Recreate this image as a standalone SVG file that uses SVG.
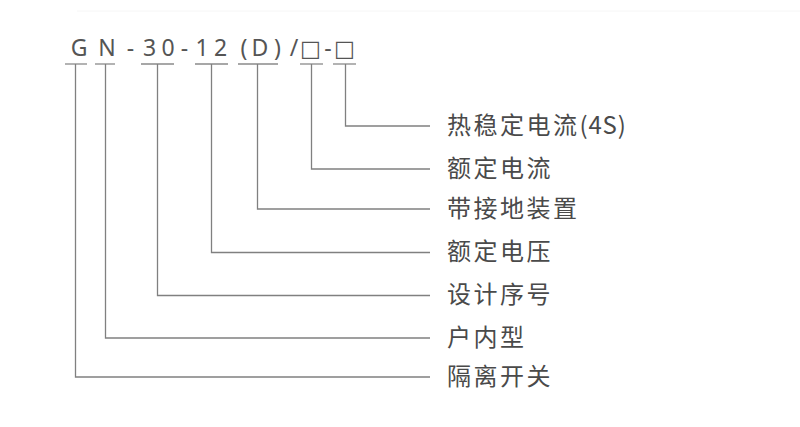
<svg xmlns="http://www.w3.org/2000/svg" width="800" height="427" viewBox="0 0 800 427">
  <style>
    .code { font-family: "Noto Sans", "Noto Sans CJK SC", sans-serif; font-size: 23px; fill: #555555; text-anchor: middle; }
    .box { font-family: "DejaVu Sans", sans-serif; font-size: 22px; fill: #555555; }
    .label { font-family: "Noto Sans CJK SC", "Noto Sans", sans-serif; font-size: 24px; fill: #4a4a4a; letter-spacing: 2.5px; }
    .latin { letter-spacing: 0.8px; }
    .wire { fill: none; stroke: #808080; stroke-width: 1.3; }
    .under { stroke: #8a8a8a; stroke-width: 1.3; }
  </style>
  <rect width="800" height="427" fill="#ffffff"/>
  <line x1="77" y1="11" x2="800" y2="11" stroke="#f6f6f6" stroke-width="1"/>

  <g id="code">
    <text class="code" y="56" x="79 107 130.5 149.5 168 184.5 202 220.5 244 260 277.5 294 310.5 328 344.5">GN-30-12(D)/<tspan class="box">□</tspan>-<tspan class="box">□</tspan></text>
    <line class="under" x1="65" y1="64" x2="87" y2="64"/>
    <line class="under" x1="95" y1="64" x2="115" y2="64"/>
    <line class="under" x1="141" y1="64" x2="174" y2="64"/>
    <line class="under" x1="195" y1="64" x2="228" y2="64"/>
    <line class="under" x1="238" y1="64" x2="278" y2="64"/>
    <line class="under" x1="300" y1="64" x2="323" y2="64"/>
    <line class="under" x1="333" y1="64" x2="356" y2="64"/>
  </g>

  <g id="connectors">
    <polyline class="wire" points="345.5,64 345.5,126 430,126"/>
    <polyline class="wire" points="311.5,64 311.5,169 430,169"/>
    <polyline class="wire" points="257.5,64 257.5,209 430,209"/>
    <polyline class="wire" points="211.5,64 211.5,252.5 430,252.5"/>
    <polyline class="wire" points="157.5,64 157.5,295.5 430,295.5"/>
    <polyline class="wire" points="105.5,64 105.5,338 430,338"/>
    <polyline class="wire" points="75.5,64 75.5,377 430,377"/>
  </g>

  <g id="node-thermal"><text class="label" x="447" y="134">热稳定电流<tspan class="latin">(4S)</tspan></text></g>
  <g id="node-rated-current"><text class="label" x="447" y="177">额定电流</text></g>
  <g id="node-earthing"><text class="label" x="447" y="217">带接地装置</text></g>
  <g id="node-rated-voltage"><text class="label" x="447" y="260">额定电压</text></g>
  <g id="node-design"><text class="label" x="447" y="303">设计序号</text></g>
  <g id="node-indoor"><text class="label" x="447" y="346">户内型</text></g>
  <g id="node-isolator"><text class="label" x="447" y="385">隔离开关</text></g>
</svg>
